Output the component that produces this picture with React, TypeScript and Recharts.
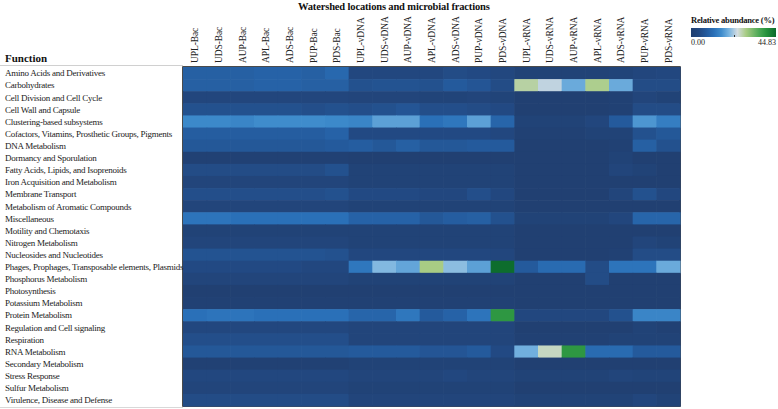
import { ScatterChart, Scatter, XAxis, YAxis, ReferenceArea } from 'recharts'

const functions = [
  'Amino Acids and Derivatives',
  'Carbohydrates',
  'Cell Division and Cell Cycle',
  'Cell Wall and Capsule',
  'Clustering-based subsystems',
  'Cofactors, Vitamins, Prosthetic Groups, Pigments',
  'DNA Metabolism',
  'Dormancy and Sporulation',
  'Fatty Acids, Lipids, and Isoprenoids',
  'Iron Acquisition and Metabolism',
  'Membrane Transport',
  'Metabolism of Aromatic Compounds',
  'Miscellaneous',
  'Motility and Chemotaxis',
  'Nitrogen Metabolism',
  'Nucleosides and Nucleotides',
  'Phages, Prophages, Transposable elements, Plasmids',
  'Phosphorus Metabolism',
  'Photosynthesis',
  'Potassium Metabolism',
  'Protein Metabolism',
  'Regulation and Cell signaling',
  'Respiration',
  'RNA Metabolism',
  'Secondary Metabolism',
  'Stress Response',
  'Sulfur Metabolism',
  'Virulence, Disease and Defense',
]

const sites = ['UPL', 'UDS', 'AUP', 'APL', 'ADS', 'PUP', 'PDS']
const fractions = ['Bac', 'vDNA', 'vRNA']
const samples = fractions.flatMap((f) => sites.map((s) => `${s}-${f}`))

// relative abundance (%), one row per function, columns UPL..PDS
const bacValues = [
  [9, 9, 9, 9.5, 9.5, 9, 10.5],
  [9, 9, 9, 9.5, 9.5, 9, 9],
  [3.5, 3.5, 3.5, 3.5, 3.5, 3.5, 3.5],
  [6, 6, 6, 6, 6, 5.5, 6],
  [15.5, 15.5, 15, 16, 16, 16, 15.5],
  [8.5, 8.5, 8.5, 8.5, 8.5, 8.5, 9.5],
  [7.5, 7.5, 7.5, 7.5, 7.5, 7.5, 8],
  [1.5, 1.5, 1.5, 1.5, 1.5, 1.5, 1.5],
  [5, 5, 5, 5, 5, 5, 6],
  [3, 3, 3, 3, 3, 3, 3],
  [5.5, 5.5, 5.5, 5.5, 5.5, 5.5, 6],
  [3, 3, 3, 3, 3, 3, 3],
  [12.5, 12.5, 12, 12, 12, 12, 12],
  [2, 2, 2, 2, 2, 2, 2],
  [3, 3, 3, 3, 3, 3, 3],
  [6.5, 6.5, 6.5, 6.5, 6.5, 6.5, 6],
  [4.5, 4.5, 4.5, 4.5, 4.5, 4, 4],
  [3, 3, 3, 3, 3, 3, 3],
  [1, 1, 1, 1, 1, 1, 1],
  [1.5, 1.5, 1.5, 1.5, 1.5, 1.5, 1.5],
  [12, 12.5, 12.5, 12, 12, 12, 12],
  [4, 4, 4, 4, 4, 4, 4],
  [5.5, 5.5, 5.5, 5.5, 5.5, 5.5, 5.5],
  [7.5, 7.5, 7.5, 7.5, 7.5, 7.5, 7.5],
  [1.5, 1.5, 1.5, 1.5, 1.5, 1.5, 1.5],
  [4, 4, 4, 4, 4, 4, 4],
  [3, 3, 3, 3, 3, 3, 3],
  [5, 5, 5, 5, 5, 5, 5],
]

const vdnaValues = [
  [4, 4, 4, 4, 5, 4.5, 4],
  [6, 6.5, 6.5, 6, 8, 7, 5],
  [3, 3, 3, 2.5, 2.5, 3, 2.5],
  [5.5, 6, 7, 5.5, 5.5, 5, 4.5],
  [15, 18, 18, 12, 13, 18, 10],
  [4.5, 4.5, 4.5, 4.5, 4.5, 4.5, 4],
  [8.5, 7.5, 9, 7.5, 7.5, 8, 8],
  [1, 1, 1, 1, 1, 1, 1],
  [2, 2, 2, 2, 2, 2, 2],
  [2, 2, 2, 2, 2, 2, 2],
  [4.5, 4.5, 4.5, 4, 4, 5.5, 4],
  [2, 2, 2, 2, 2, 2, 2],
  [9.5, 9.5, 9.5, 7.5, 8.5, 9, 6],
  [2, 2, 2, 2, 2, 2, 2],
  [2, 2, 2, 2, 2, 2, 2],
  [4, 4, 4, 4, 4, 4, 3.5],
  [13, 20.5, 18.5, 29, 21, 18, 44.5],
  [2, 2, 2, 2, 2, 2, 2],
  [1, 1, 1, 1, 1, 1, 1],
  [1.5, 1.5, 1.5, 1.5, 1.5, 1.5, 1.5],
  [10, 10, 13, 8, 9.5, 12.5, 39],
  [3, 3, 3, 3, 3, 3, 3],
  [3, 3, 3, 3, 3, 3, 3],
  [8, 8, 8, 7, 7, 8, 4.5],
  [2, 2, 2, 2, 2, 2, 2],
  [3, 3, 3, 3, 4, 3, 3],
  [2, 2, 2, 2, 2, 2, 2],
  [3, 3, 3, 3, 3, 3, 3],
]

const vrnaValues = [
  [2, 2, 2, 2, 2.5, 3.5, 4],
  [27.5, 23.5, 19, 28.5, 19, 5, 5],
  [1, 1, 1, 1, 1.5, 3, 2],
  [1, 1, 1, 1, 1.5, 5, 5],
  [2, 2, 2, 3.5, 8, 17, 14],
  [1.5, 1.5, 1.5, 2, 2, 6, 7.5],
  [1, 1, 1, 1, 1.5, 9, 6],
  [1, 1, 1, 1, 2, 1, 1],
  [1, 1, 1, 1, 3, 2, 1],
  [1, 1, 1, 1, 1, 1, 1],
  [1, 1, 1, 1, 3, 6, 4],
  [1, 1, 1, 1, 1, 1, 1],
  [2, 2, 2, 2, 3.5, 10, 10],
  [1, 1, 1, 1, 1, 1, 1],
  [1, 1, 1, 1, 1, 3, 2],
  [1, 1, 1, 1, 1.5, 5, 5],
  [8, 11, 11, 5, 12.5, 12.5, 19],
  [1, 1, 1, 5, 1, 1, 1],
  [1, 1, 1, 1, 1, 1, 1],
  [1, 1, 1, 1, 1, 1, 1],
  [4, 4, 4, 4, 6, 15, 15],
  [1, 1, 1, 1, 1, 2, 1.5],
  [1.5, 1.5, 1.5, 1.5, 2, 2, 2],
  [19.5, 26, 39, 11, 11, 8, 8],
  [1, 1, 1, 1, 1, 1, 1],
  [2, 2, 2, 2, 3, 2.5, 2.5],
  [1, 1, 1, 1, 1, 1, 1],
  [2, 2, 2, 2, 2, 3.5, 2],
]

const MAX_VALUE = 44.83

// colour stops: [value, colour]
const colorStops: [number, string][] = [
  [0, '#203e6e'],
  [4, '#22477f'],
  [8, '#245a9c'],
  [12, '#2a70b8'],
  [16, '#3f8ccc'],
  [20, '#78b4e0'],
  [24.5, '#d4dce0'],
  [29, '#a8cc84'],
  [36, '#4aa855'],
  [40, '#24913c'],
  [44.83, '#0b6a2c'],
]

const hexToRgb = (h: string) => [1, 3, 5].map((i) => parseInt(h.slice(i, i + 2), 16))

function colorFor(v: number) {
  for (let i = 1; i < colorStops.length; i++) {
    const [v1, c1] = colorStops[i]
    const [v0, c0] = colorStops[i - 1]
    if (v <= v1) {
      const t = (v - v0) / (v1 - v0)
      const a = hexToRgb(c0)
      const b = hexToRgb(c1)
      return `rgb(${a.map((x, k) => Math.round(x + (b[k] - x) * t)).join(',')})`
    }
  }
  return colorStops[colorStops.length - 1][1]
}

const W = 778
const H = 409
const PLOT_LEFT = 183
const PLOT_TOP = 67
const PLOT_RIGHT = 680
const PLOT_BOTTOM = 406
const CELL_W = (PLOT_RIGHT - PLOT_LEFT) / samples.length
const CELL_H = (PLOT_BOTTOM - PLOT_TOP) / functions.length

const cells = [bacValues, vdnaValues, vrnaValues].flatMap((mat, fi) =>
  mat.flatMap((row, ri) =>
    row.map((value, ci) => ({ x: fi * sites.length + ci + 0.5, y: ri + 0.5, value }))
  )
)

const xTicks = samples.map((_, i) => i + 0.5)
const yTicks = functions.map((_, i) => i + 0.5)

const serif = '"Liberation Serif", "Times New Roman", serif'

function HeatCell(props: any) {
  const { cx, cy, payload } = props
  if (cx == null || cy == null) return null
  return (
    <rect
      x={cx - CELL_W / 2}
      y={cy - CELL_H / 2}
      width={CELL_W + 0.6}
      height={CELL_H + 0.6}
      fill={colorFor(payload.value)}
    />
  )
}

function ColumnTick(props: any) {
  const { x, payload } = props
  return (
    <text
      transform={`translate(${x + 3.5}, 63) rotate(-90)`}
      fontFamily={serif}
      fontSize={9.5}
      letterSpacing={-0.1}
      fill="#222"
    >
      {samples[Math.floor(payload.value)]}
    </text>
  )
}

function RowTick(props: any) {
  const { y, payload } = props
  return (
    <text x={5} y={y + 3.3} fontFamily={serif} fontSize={9} letterSpacing={-0.25} fill="#222">
      {functions[Math.floor(payload.value)]}
    </text>
  )
}

const legendGradient = `linear-gradient(to right, ${colorStops
  .map(([v, c]) => `${c} ${((v / MAX_VALUE) * 100).toFixed(1)}%`)
  .join(', ')})`

export default function App() {
  return (
    <div style={{ position: 'relative', width: W, height: H, background: '#fff', fontFamily: serif }}>
      <style>{'body{margin:0}'}</style>
      <div
        style={{
          position: 'absolute',
          left: 298,
          top: 1,
          fontSize: 10.5,
          letterSpacing: -0.15,
          fontWeight: 'bold',
          color: '#111',
          whiteSpace: 'nowrap',
        }}
      >
        Watershed locations and microbial fractions
      </div>
      <div style={{ position: 'absolute', left: 5, top: 52, fontSize: 11, fontWeight: 'bold', color: '#111' }}>
        Function
      </div>
      <div style={{ position: 'absolute', left: 0, top: 65, width: PLOT_LEFT, height: 1, background: '#d0d0d0' }} />
      <div style={{ position: 'absolute', left: 0, top: 407, width: PLOT_LEFT, height: 1, background: '#d8d8d8' }} />

      <ScatterChart width={W} height={H} margin={{ top: 0, right: W - PLOT_RIGHT, bottom: H - PLOT_BOTTOM, left: 0 }}>
        <XAxis
          type="number"
          dataKey="x"
          orientation="top"
          domain={[0, samples.length]}
          ticks={xTicks}
          height={PLOT_TOP}
          axisLine={false}
          tickLine={false}
          tick={<ColumnTick />}
          interval={0}
        />
        <YAxis
          type="number"
          dataKey="y"
          reversed
          domain={[0, functions.length]}
          ticks={yTicks}
          width={PLOT_LEFT}
          axisLine={false}
          tickLine={false}
          tick={<RowTick />}
          interval={0}
        />
        <Scatter data={cells} shape={<HeatCell />} isAnimationActive={false} />
        <ReferenceArea
          x1={0}
          x2={samples.length}
          y1={0}
          y2={functions.length}
          fill="none"
          fillOpacity={0}
          stroke="#111"
          strokeWidth={1.5}
        />
      </ScatterChart>

      <div
        style={{
          position: 'absolute',
          left: 691,
          top: 15,
          fontSize: 8.5,
          letterSpacing: -0.2,
          fontWeight: 'bold',
          color: '#111',
          whiteSpace: 'nowrap',
        }}
      >
        Relative abundance (%)
      </div>
      <div style={{ position: 'absolute', left: 691, top: 28, width: 85, height: 9, background: legendGradient }} />
      <div style={{ position: 'absolute', left: 734, top: 35, width: 1, height: 2, background: '#333' }} />
      <div style={{ position: 'absolute', left: 691, top: 38, fontSize: 8, color: '#222' }}>
        {(0).toFixed(2)}
      </div>
      <div style={{ position: 'absolute', right: W - 776, top: 38, fontSize: 8, color: '#222' }}>
        {MAX_VALUE.toFixed(2)}
      </div>
    </div>
  )
}
